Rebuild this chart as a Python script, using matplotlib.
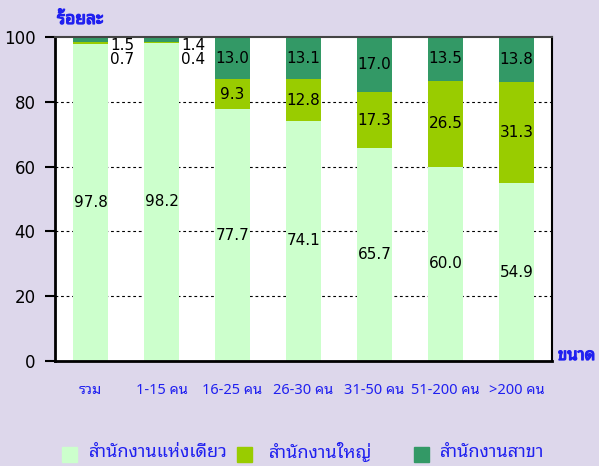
import numpy as np
import matplotlib
matplotlib.use("Agg")
import matplotlib.pyplot as plt
import matplotlib.patheffects as pe
from matplotlib.patches import Rectangle

thai = ['Noto Sans Thai Looped', 'DejaVu Sans']
plt.rcParams['font.family'] = ['DejaVu Sans']

# ขนาดสถานประกอบการ (จำนวนคน)
groups = ["รวม", "1-15 คน", "16-25 คน", "26-30 คน", "31-50 คน", "51-200 คน", ">200 คน"]
single = [97.8, 98.2, 77.7, 74.1, 65.7, 60.0, 54.9]   # สำนักงานแห่งเดียว
head = [0.7, 0.4, 9.3, 12.8, 17.3, 26.5, 31.3]        # สำนักงานใหญ่
branch = [1.5, 1.4, 13.0, 13.1, 17.0, 13.5, 13.8]     # สำนักงานสาขา
names = ["สำนักงานแห่งเดียว", "สำนักงานใหญ่", "สำนักงานสาขา"]
colors = ["#CCFFCC", "#99CC00", "#339966"]

bg = "#DDD7EB"
blue = "#2020F0"

fig = plt.figure(figsize=(5.99, 4.66), dpi=100, facecolor=bg)
ax = fig.add_axes([55/599, 1-361/466, 497/599, 324/466])
ax.set_facecolor("white")

x = np.arange(len(groups))
single = np.array(single)
head = np.array(head)
branch = np.array(branch)
w = 0.5
ax.bar(x, single, w, color=colors[0], zorder=2)
ax.bar(x, head, w, bottom=single, color=colors[1], zorder=2)
ax.bar(x, branch, w, bottom=single + head, color=colors[2], zorder=2)

lab = dict(fontsize=11, color='black', zorder=3)
for i in range(len(groups)):
    ax.text(x[i], single[i] / 2, "%.1f" % single[i], ha='center', va='center', **lab)
    if head[i] > 5:
        ax.text(x[i], single[i] + head[i] / 2, "%.1f" % head[i], ha='center', va='center', **lab)
        ax.text(x[i], single[i] + head[i] + branch[i] / 2, "%.1f" % branch[i],
                ha='center', va='center', **lab)
    else:
        # small shares written beside the bar
        ax.text(x[i] + w / 2 + 0.03, 97.3, "%.1f" % branch[i], ha='left', va='center', **lab)
        ax.text(x[i] + w / 2 + 0.03, 93.0, "%.1f" % head[i], ha='left', va='center', **lab)

ax.set_xlim(-0.5, len(groups) - 0.5)
ax.set_ylim(0, 100)
ax.set_yticks([0, 20, 40, 60, 80, 100])
ax.tick_params(axis='y', direction='out', length=7, width=1.5, labelsize=12, pad=7)
ax.set_xticks(x)
ax.set_xticklabels(groups, color=blue, fontsize=10.5, family=thai)
ax.tick_params(axis='x', length=0, pad=16)
for v in [20, 40, 60, 80]:
    ax.axhline(v, color='black', lw=0.8, ls=(0, (2.5, 2.5)), zorder=1)
for s in ['left', 'bottom']:
    ax.spines[s].set_linewidth(2)
for s in ['top', 'right']:
    ax.spines[s].set_linewidth(1.5)
ax.spines['top'].set_color('#444444')

# heavier stroke for the axis titles
bold = [pe.withStroke(linewidth=0.9, foreground=blue)]
fig.text(80/599, 1-19/466, "ร้อยละ", color=blue, fontsize=12.5,
         ha='center', va='center', family=thai, path_effects=bold)
fig.text(558/599, 1-356/466, "ขนาด", color=blue, fontsize=12,
         ha='left', va='center', family=thai, path_effects=bold)

# legend along the bottom
lx = [62, 237, 414]
tx = [89, 269, 440]
for k in range(3):
    fig.patches.append(Rectangle((lx[k]/599, 1-462/466), 15/599, 15/466,
                                 transform=fig.transFigure, color=colors[k]))
    fig.text(tx[k]/599, 1-452/466, names[k], color=blue, fontsize=13,
             ha='left', va='center', family=thai)

fig.savefig("out.png", facecolor=bg)
